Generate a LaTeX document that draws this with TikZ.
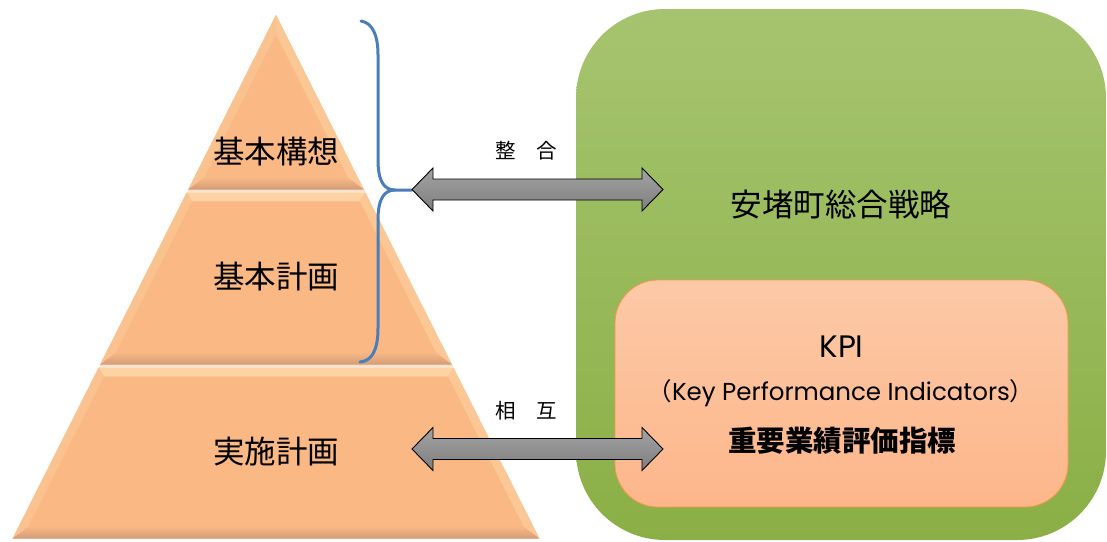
\documentclass[tikz,border=0pt]{standalone}
\usepackage{fontspec}
\newfontfamily\jp{Noto Sans CJK JP}
\newfontfamily\lat{Poppins}
\usetikzlibrary{calc}
\definecolor{pyrbase}{HTML}{F9B884}
\definecolor{pyrlight}{HTML}{FCCB98}
\definecolor{pyrtop}{HTML}{FDD3A4}
\definecolor{pyrdark}{HTML}{D29D78}
\definecolor{pyrsep}{HTML}{F3E4D3}
\definecolor{bracecol}{HTML}{4A7EBB}
\definecolor{greentop}{HTML}{A6C46F}
\definecolor{greenbot}{HTML}{8BAF46}
\definecolor{kpitop}{HTML}{FCC9A7}
\definecolor{kpibot}{HTML}{FDB68A}
\definecolor{kpiedge}{HTML}{F7964A}
\definecolor{arrtop}{HTML}{A3A3A3}
\definecolor{arrbot}{HTML}{7E7E7E}
\newcommand\pyrseg[2]{%
  \pgfmathsetmacro\pk{0.503}%
  \pgfmathsetmacro\ptl{276-\pk*(#1-15)}%
  \pgfmathsetmacro\ptr{276+\pk*(#1-15)}%
  \pgfmathsetmacro\pbl{276-\pk*(#2-15)}%
  \pgfmathsetmacro\pbr{276+\pk*(#2-15)}%
  \pgfmathsetmacro\pit{max(#1+9,35)}%
  \pgfmathsetmacro\pib{#2-12}%
  \pgfmathsetmacro\pitl{276-\pk*(\pit-15)+10}%
  \pgfmathsetmacro\pitr{276+\pk*(\pit-15)-10}%
  \pgfmathsetmacro\pibl{276-\pk*(\pib-15)+10}%
  \pgfmathsetmacro\pibr{276+\pk*(\pib-15)-10}%
  \fill[pyrbase] (\pbl,#2) -- (\ptl,#1) -- (\ptr,#1) -- (\pbr,#2) -- cycle;
  \fill[pyrtop] (\ptl,#1) -- (\ptr,#1) -- (\pitr,\pit) -- (\pitl,\pit) -- cycle;
  \fill[pyrlight!50!pyrbase] (\pbl,#2) -- (\ptl,#1) -- (\pitl,\pit) -- (\pibl,\pib) -- cycle;
  \fill[pyrlight!80!pyrbase] (\ptr,#1) -- (\pbr,#2) -- (\pibr,\pib) -- (\pitr,\pit) -- cycle;
  \shade[top color=pyrbase, bottom color=pyrdark] (\pbl,#2) -- (\pibl,\pib) -- (\pibr,\pib) -- (\pbr,#2) -- cycle;
  \fill[pyrbase] (\pibl,\pib) -- (\pitl,\pit) -- (\pitr,\pit) -- (\pibr,\pib) -- cycle;
}
\newcommand\blockarrow[2]{%
  \shadedraw[arrowshape] (#1) -- ($(#1)+(21,-21.5)$) -- ($(#1)+(21,-10.5)$) -- ($(#2)+(-21,-10.5)$) -- ($(#2)+(-21,-21.5)$) -- (#2) -- ($(#2)+(-21,21.5)$) -- ($(#2)+(-21,10.5)$) -- ($(#1)+(21,10.5)$) -- ($(#1)+(21,21.5)$) -- cycle;
}
\tikzset{
  arrowshape/.style={draw=black, line width=0.9pt, top color=arrtop, bottom color=arrbot, line join=miter},
  pyrtext/.style={font=\jp\fontsize{31.5}{36}\selectfont, text=black, inner sep=0pt},
  smalltext/.style={font=\jp\fontsize{20.5}{24}\selectfont, text=black, inner sep=0pt},
  greenbox/.style={rectangle, rounded corners=89pt, top color=greentop, bottom color=greenbot, inner sep=0pt, minimum width=530pt, minimum height=531pt},
  kpibox/.style={rectangle, rounded corners=43pt, top color=kpitop, bottom color=kpibot, draw=kpiedge, line width=0.8pt, inner sep=0pt, minimum width=453pt, minimum height=227pt},
  bracestyle/.style={draw=bracecol, line width=3pt, line cap=round},
}
\begin{document}
\begin{tikzpicture}[x=1pt,y=-1pt]
\useasboundingbox (0,0) rectangle (1107,541);
% green strategy box and KPI box
\node[greenbox] (strat) at (841,274.5) {};
\node[kpibox] (kpi) at (841.5,393.5) {};
% pyramid
\pyrseg{15}{189.5}
\pyrseg{192.5}{364.5}
\pyrseg{367.5}{538.5}
\draw[pyrsep, line width=2.5pt] (187.5,191) -- (364.5,191);
\draw[pyrsep, line width=2.5pt] (99.5,366) -- (452.5,366);
\node[pyrtext] (t1) at (276,152) {基本構想};
\node[pyrtext] (t2) at (276,277) {基本計画};
\node[pyrtext] (t3) at (276,452) {実施計画};
% brace
\coordinate (btop) at (361,21);
\coordinate (btip) at (412,190);
\coordinate (bbot) at (360,362);
\draw[bracestyle] (btop) .. controls (373,23) and (378,36) .. (378,55) -- (378,160)
   .. controls (378,181) and (384,190) .. (395,190) -- (btip);
\draw[bracestyle] (395,190) .. controls (384,190) and (378,199) .. (378,220) -- (378,328)
   .. controls (378,350) and (372,361) .. (bbot);
% arrows
\coordinate (a1l) at (412,189.5);
\coordinate (a1r) at (663,189.5);
\coordinate (a2l) at (412,449);
\coordinate (a2r) at (663,449);
\blockarrow{a1l}{a1r}
\blockarrow{a2l}{a2r}
\node[smalltext] (l1) at (526,151) {整　合};
\node[smalltext] (l2) at (526,411) {相　互};
% texts on the right
\node[pyrtext] (st) at (841,204) {安堵町総合戦略};
\node[font=\lat\fontsize{31}{34}\selectfont, inner sep=0pt] (k1) at (841.5,347) {KPI};
\node[font=\lat\fontsize{24.5}{28}\selectfont, inner sep=0pt] (k2) at (841,393) {{\jp （}Key Performance Indicators{\jp ）}};
\node[font=\jp\bfseries\fontsize{28.5}{32}\selectfont, inner sep=0pt] (k3) at (842,441) {重要業績評価指標};
\end{tikzpicture}
\end{document}
